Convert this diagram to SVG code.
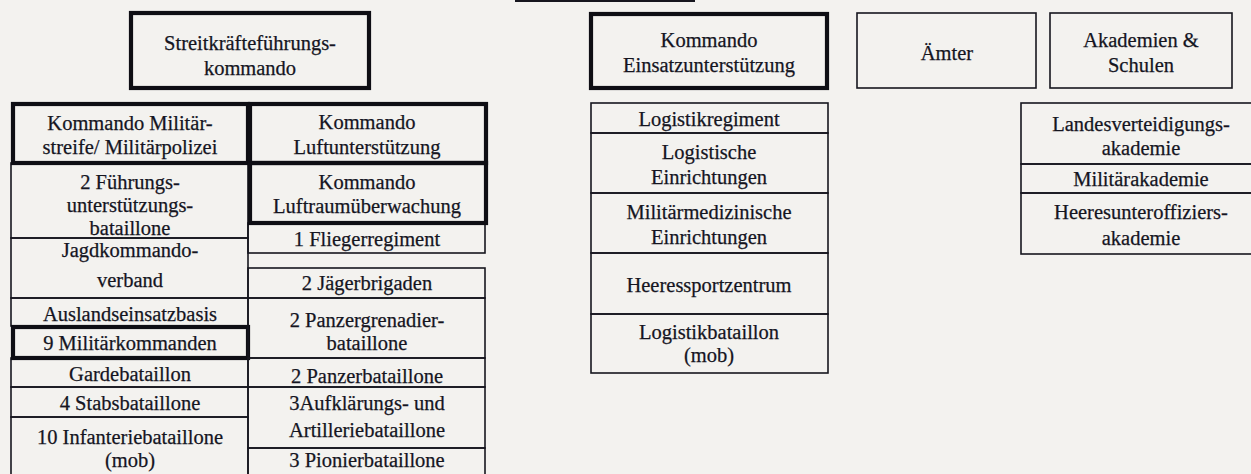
<svg xmlns="http://www.w3.org/2000/svg" width="1251" height="474" viewBox="0 0 1251 474" font-family="'Liberation Serif', 'Times New Roman', 'DejaVu Serif', serif">
<style>
.bg{fill:#f3f2ef}
.thin{fill:none;stroke:#16161e;stroke-width:1.6}
.thick{fill:none;stroke:#0e0e14;stroke-width:4.2}
text{font-family:'Liberation Serif','Times New Roman','DejaVu Serif',serif;font-size:20.5px;fill:#15151f;stroke:#15151f;stroke-width:0.25;text-anchor:middle}
</style>
<rect class="bg" x="0" y="0" width="1251" height="474"/>
<g id="connectors"></g>
<g id="fragment-top"><line x1="515" y1="1" x2="695" y2="1" stroke="#16161e" stroke-width="2"/></g>

<g id="n-streitkraeftefuehrungskommando"><rect class="thick" x="131" y="13" width="238" height="75"/><text x="250" y="50">Streitkräfteführungs-</text><text x="250" y="75">kommando</text></g>
<g id="n-kommando-einsatzunterstuetzung"><rect class="thick" x="591" y="14" width="236" height="74"/><text x="709" y="47">Kommando</text><text x="709" y="72">Einsatzunterstützung</text></g>
<g id="n-aemter"><rect class="thin" x="857" y="13" width="179" height="75"/><text x="947" y="60">Ämter</text></g>
<g id="n-akademien-schulen"><rect class="thin" x="1050" y="13" width="182" height="75"/><text x="1141" y="47">Akademien &amp;</text><text x="1141" y="72">Schulen</text></g>

<g id="c1-2"><rect class="thin" x="11" y="163" width="237" height="75"/><text x="130" y="189">2 Führungs-</text><text x="130" y="212">unterstützungs-</text><text x="130" y="235">bataillone</text></g>
<g id="c1-3"><rect class="thin" x="11" y="238" width="237" height="60"/><text x="130" y="257">Jagdkommando-</text><text x="130" y="287">verband</text></g>
<g id="c1-4"><rect class="thin" x="11" y="298" width="237" height="28"/><text x="130" y="321">Auslandseinsatzbasis</text></g>
<g id="c1-6"><rect class="thin" x="11" y="358" width="237" height="29"/><text x="130" y="381">Gardebataillon</text></g>
<g id="c1-7"><rect class="thin" x="11" y="387" width="237" height="30"/><text x="130" y="410">4 Stabsbataillone</text></g>
<g id="c1-8"><rect class="thin" x="11" y="417" width="237" height="70"/><text x="130" y="444">10 Infanteriebataillone</text><text x="130" y="467">(mob)</text></g>
<g id="c1-1"><rect class="thick" x="13" y="104" width="235" height="59"/><text x="130" y="130">Kommando Militär-</text><text x="130" y="154">streife/ Militärpolizei</text></g>
<g id="c1-5"><rect class="thick" x="13" y="327" width="235" height="31"/><text x="130" y="350">9 Militärkommanden</text></g>

<g id="c2-3"><rect class="thin" x="248" y="223" width="237" height="30"/><text x="367" y="246">1 Fliegerregiment</text></g>
<g id="c2-4"><rect class="thin" x="248" y="268" width="237" height="30"/><text x="367" y="290">2 Jägerbrigaden</text></g>
<g id="c2-5"><rect class="thin" x="248" y="298" width="237" height="60"/><text x="367" y="327">2 Panzergrenadier-</text><text x="367" y="350">bataillone</text></g>
<g id="c2-6"><rect class="thin" x="248" y="358" width="237" height="29"/><text x="367" y="383">2 Panzerbataillone</text></g>
<g id="c2-7"><rect class="thin" x="248" y="387" width="237" height="61"/><text x="367" y="410">3Aufklärungs- und</text><text x="367" y="437">Artilleriebataillone</text></g>
<g id="c2-8"><rect class="thin" x="248" y="448" width="237" height="40"/><text x="367" y="467">3 Pionierbataillone</text></g>
<g id="c2-1"><rect class="thick" x="250" y="104" width="236" height="59"/><text x="367" y="129">Kommando</text><text x="367" y="154">Luftunterstützung</text></g>
<g id="c2-2"><rect class="thick" x="250" y="163" width="236" height="60"/><text x="367" y="189">Kommando</text><text x="367" y="213">Luftraumüberwachung</text></g>

<g id="l-1"><rect class="thin" x="591" y="103" width="237" height="30"/><text x="709" y="126">Logistikregiment</text></g>
<g id="l-2"><rect class="thin" x="591" y="133" width="237" height="60"/><text x="709" y="159">Logistische</text><text x="709" y="184">Einrichtungen</text></g>
<g id="l-3"><rect class="thin" x="591" y="193" width="237" height="60"/><text x="709" y="219">Militärmedizinische</text><text x="709" y="244">Einrichtungen</text></g>
<g id="l-4"><rect class="thin" x="591" y="253" width="237" height="61"/><text x="709" y="292">Heeressportzentrum</text></g>
<g id="l-5"><rect class="thin" x="591" y="314" width="237" height="59"/><text x="709" y="339">Logistikbataillon</text><text x="709" y="362">(mob)</text></g>

<g id="a-1"><rect class="thin" x="1021" y="103" width="241" height="61"/><text x="1141" y="131">Landesverteidigungs-</text><text x="1141" y="155">akademie</text></g>
<g id="a-2"><rect class="thin" x="1021" y="164" width="241" height="29"/><text x="1141" y="186">Militärakademie</text></g>
<g id="a-3"><rect class="thin" x="1021" y="193" width="241" height="61"/><text x="1141" y="219">Heeresunteroffiziers-</text><text x="1141" y="245">akademie</text></g>
</svg>
